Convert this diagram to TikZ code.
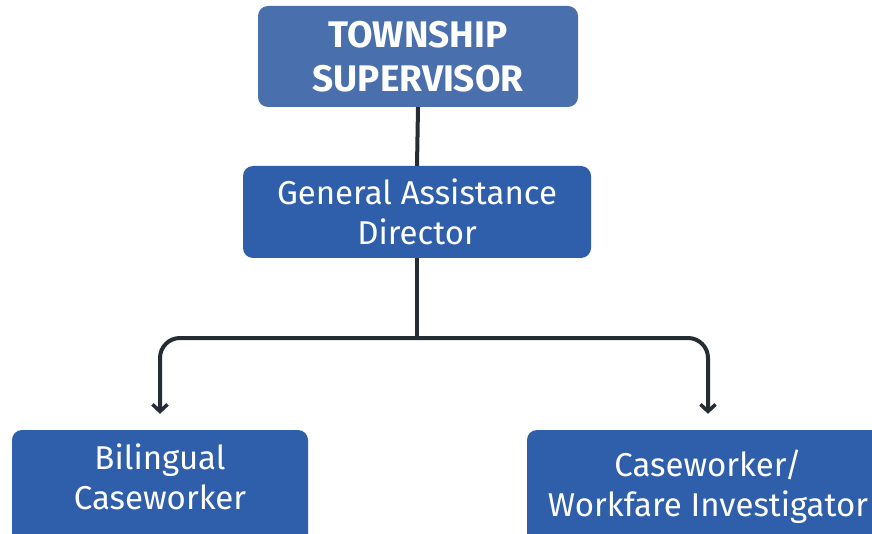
\documentclass[tikz,border=0pt]{standalone}
\usepackage{fontspec}
\setmainfont{Fira Sans}
\usepackage{tikz}
\usetikzlibrary{arrows.meta,positioning}

\definecolor{headblue}{HTML}{4A6FAD}
\definecolor{boxblue}{HTML}{2F5FAA}
\definecolor{linedark}{HTML}{262C33}

\begin{document}
\begin{tikzpicture}[x=1pt, y=-1pt,
		box/.style={rectangle, rounded corners=10pt, fill=boxblue, text=white, align=center, inner sep=0pt},
		head/.style={box, fill=headblue, font=\fontsize{37}{44}\selectfont\bfseries},
		role/.style={box, font=\fontsize{33}{40}\selectfont},
		conn/.style={draw=linedark, line width=4pt, rounded corners=20pt},
		tip/.style={-{Straight Barb[length=7pt, width=15pt, line width=3.5pt]}, shorten >=16pt}]
	\useasboundingbox (0,0) rectangle (872,534);
				\node[head, minimum width=320pt, minimum height=101pt] (TS) at (418,56.5) {TOWNSHIP\\SUPERVISOR};
				\node[role, minimum width=348pt, minimum height=92pt]  (GA) at (417,212)  {General Assistance\\Director};
				\node[role, minimum width=296pt, minimum height=114pt, text depth=20pt] (BC) at (160,487) {Bilingual\\Caseworker};
				\node[role, minimum width=362pt, minimum height=114pt] (CW) at (708,487)  {Caseworker/\\Workfare Investigator};
				\coordinate (split) at (417,338);

				\draw[conn] (TS.south) -- (GA.north);
				\draw[conn] (GA.south) -- (split);
				\draw[conn, tip] (split) -| (BC.north);
				\draw[conn, tip] (split) -| (CW.north);
\end{tikzpicture}
\end{document}
